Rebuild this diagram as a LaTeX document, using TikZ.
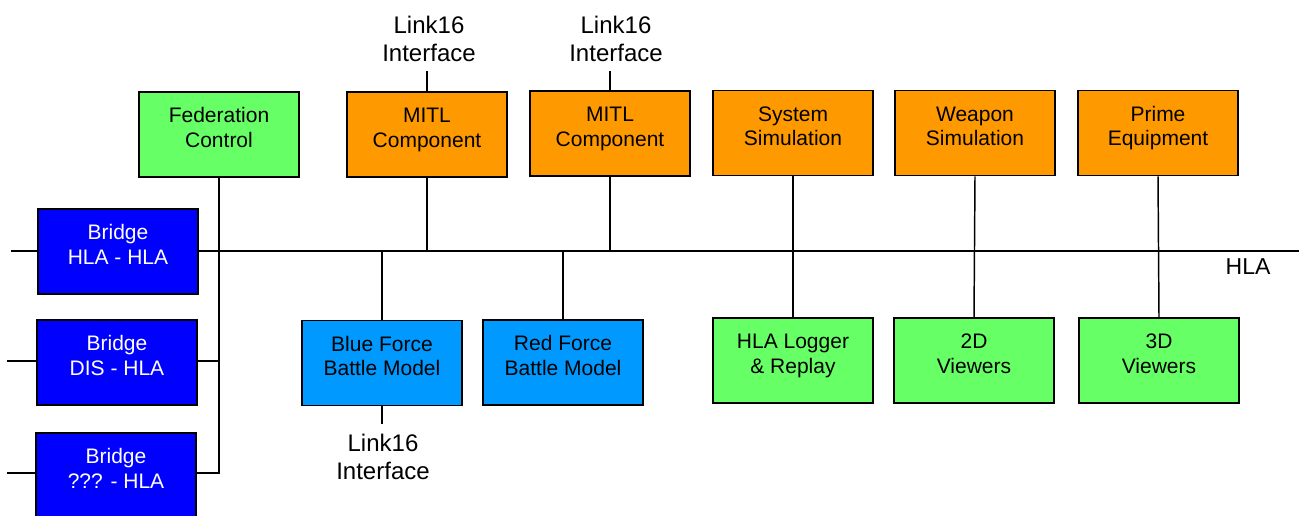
\documentclass[tikz,border=0pt]{standalone}
\usepackage{fontspec}
\setmainfont{Liberation Sans}
\definecolor{cgreen}{HTML}{66FF66}
\definecolor{corange}{HTML}{FF9900}
\definecolor{cblue}{HTML}{0000FF}
\definecolor{clblue}{HTML}{0099FF}
\newcommand\twol[2]{\strut#1\\#2\strut}
\tikzset{
  box/.style={draw=black, line width=1.3pt, minimum width=120pt, minimum height=63.75pt, inner sep=0pt},
  txt/.style={align=center, font=\fontsize{15.75}{18.4}\selectfont, inner sep=0pt},
  bigtxt/.style={align=center, font=\fontsize{18}{21}\selectfont, inner sep=0pt},
  boxlabel/.style={label={[txt, yshift=3.2pt]center:#1}},
  wboxlabel/.style={label={[txt, text=white, yshift=3.2pt]center:#1}},
  wire/.style={draw=black, line width=1.1pt},
}
\begin{document}
\begin{tikzpicture}[x=0.75pt, y=-0.75pt]
\useasboundingbox (0,0) rectangle (1299,516);
% top row
\node[box, fill=cgreen, boxlabel={\twol{Federation}{Control}}] (fed) at (219,134.5) {};
\node[box, fill=corange, boxlabel={\twol{MITL}{Component}}] (mitl1) at (427,134.5) {};
\node[box, fill=corange, boxlabel={\twol{MITL}{Component}}] (mitl2) at (610,133.5) {};
\node[box, fill=corange, boxlabel={\twol{System}{Simulation}}] (sys) at (793,133) {};
\node[box, fill=corange, boxlabel={\twol{Weapon}{Simulation}}] (weap) at (975,133) {};
\node[box, fill=corange, boxlabel={\twol{Prime}{Equipment}}] (prime) at (1158,133) {};
% bridges
\node[box, fill=cblue, wboxlabel={\twol{Bridge}{HLA - HLA}}] (br1) at (118,251.5) {};
\node[box, fill=cblue, wboxlabel={\twol{Bridge}{DIS - HLA}}] (br2) at (117,362.5) {};
\node[box, fill=cblue, wboxlabel={\twol{Bridge}{??? - HLA}}] (br3) at (116,475.5) {};
% bottom row
\node[box, fill=clblue, boxlabel={\twol{Blue Force}{Battle Model}}] (blue) at (382,363) {};
\node[box, fill=clblue, boxlabel={\twol{Red Force}{Battle Model}}] (red) at (563,362.5) {};
\node[box, fill=cgreen, boxlabel={\twol{HLA Logger}{\& Replay}}] (log) at (793,360.5) {};
\node[box, fill=cgreen, boxlabel={\twol{2D}{Viewers}}] (v2d) at (974,360.5) {};
\node[box, fill=cgreen, boxlabel={\twol{3D}{Viewers}}] (v3d) at (1159,360.5) {};
% Link16 labels
\node[bigtxt, outer ysep=1pt] (l1) at (429,41.5) {\twol{Link16}{Interface}};
\node[bigtxt, outer ysep=1pt] (l2) at (616,41.5) {\twol{Link16}{Interface}};
\node[bigtxt, outer ysep=5.6pt] (l3) at (383,459.5) {\twol{Link16}{Interface}};
\node[font=\fontsize{17.25}{20}\selectfont, inner sep=0pt] (hla) at (1248,267) {HLA};
% bus coordinates
\coordinate (busL) at (11,251);
\coordinate (busR) at (1299,251);
\coordinate (s2) at (7,361);
\coordinate (s3) at (7,473);
\coordinate (fedbot) at (219,473);
% wires
\draw[wire] (busL) -- (br1.west |- busL);
\draw[wire] (br1.east |- busL) -- (busR);
\draw[wire] (s2) -- (br2.west |- s2);
\draw[wire] (s3) -- (br3.west |- s3);
\draw[wire] (fed.south) -- (fedbot) -- (br3.east |- fedbot);
\draw[wire] (br2.east |- s2) -- (fed.south |- s2);
\draw[wire] (mitl1.south) -- (mitl1.south |- busR);
\draw[wire] (mitl2.south) -- (mitl2.south |- busR);
\draw[wire] (mitl1.north) -- (mitl1.north |- l1.south);
\draw[wire] (mitl2.north) -- (mitl2.north |- l2.south);
\draw[wire] (blue.north) -- (blue.north |- busR);
\draw[wire] (red.north) -- (red.north |- busR);
\draw[wire] (blue.south) -- (blue.south |- l3.north);
\draw[wire] (sys.south) -- (log.north);
\draw[wire] (weap.south) -- (v2d.north);
\draw[wire] (prime.south) -- (v3d.north);
\end{tikzpicture}
\end{document}
